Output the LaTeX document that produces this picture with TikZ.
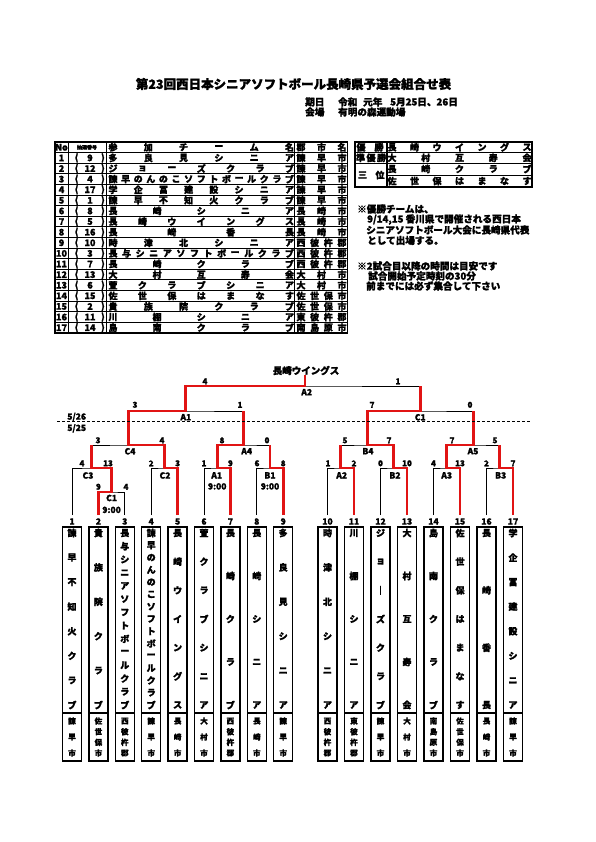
\documentclass[tikz,border=0pt]{standalone}
\usepackage{fontspec}
\setmainfont{Noto Sans CJK JP}[BoldFeatures={FakeBold=1.6}]
\newcommand\fsz[1]{\fontsize{#1}{#1}\selectfont}
\definecolor{wred}{RGB}{225,20,20}
\tikzset{
 ln/.style={line width=0.9pt, black},
 wn/.style={line width=2.8pt, wred},
 sc/.style={font=\bfseries\fsz{8}, anchor=south, inner sep=0pt},
 ml/.style={font=\bfseries\fsz{8.5}, anchor=north, inner sep=0pt},
 num/.style={font=\bfseries\fsz{8.5}, inner sep=0pt},
 tbox/.style={draw, line width=1.3pt, minimum width=19pt, minimum height=234pt, inner sep=0pt},
 tchar/.style={font=\bfseries\fsz{9}, inner sep=0pt},
 cchar/.style={font=\bfseries\fsz{7.6}, inner sep=0pt},
 tabc/.style={font=\bfseries\fsz{9}, inner sep=0pt},
 note/.style={font=\bfseries\fsz{9.6}, anchor=west, inner sep=0pt},
 grid/.style={line width=0.9pt},
 frame/.style={line width=1.4pt},
}
\newcommand\tname[3]{\foreach \chr [count=\k] in {#3} {\node[tchar] at ({#1},{533+(\k-1)*172/(#2-1)}) {\chr};}}
\newcommand\tcity[3]{\foreach \chr [count=\k] in {#3} {\node[cchar] at ({#1},{721+(\k-1)*32/(#2-1)}) {\chr};}}
\newcommand\hdist[5]{\foreach \chr [count=\k] in {#5} {\node[tabc] at ({#1+(\k-1)*(#2-#1)/(#4-1)},{#3}) {\chr};}}
\newcommand\trow[6]{%
 \pgfmathsetmacro\ry{142+(#1+0.5)*10.61}
 \node[tabc] (no#1) at (61.5,\ry) {#1};
 \node[tabc] (lp#1) at (76.5,\ry) {(};
 \node[tabc] (dn#1) at (90,\ry) {#2};
 \node[tabc] (rp#1) at (103,\ry) {)};
 \hdist{113}{289.5}{\ry}{#3}{#4}
 \hdist{301}{342}{\ry}{#5}{#6}
}
\begin{document}
\begin{tikzpicture}[x=1pt,y=-1pt]
\useasboundingbox (0,0) rectangle (595,842);
\fill[white] (0,0) rectangle (595,842);

% title
\node[font=\bfseries\fsz{12.5}, inner sep=0pt] (title) at (293.5,84) {第23回西日本シニアソフトボール長崎県予選会組合せ表};
\node[note] (d1) at (305,102) {期日};
\node[note] (d2) at (338,102) {令和};
\node[note] (d3) at (363,102) {元年};
\node[note] (d4) at (390,102) {5月25日、26日};
\node[note] (v1) at (305,112) {会場};
\node[note] (v2) at (338,112) {有明の森運動場};

% table
\foreach \k in {1,...,17} {\draw[grid] (55,{142+\k*10.61}) -- (347.5,{142+\k*10.61});}
\foreach \xx in {68,106,294.5} {\draw[grid] (\xx,142) -- (\xx,333);}
\draw[frame] (55,142) rectangle (347.5,333);
\draw[frame] (55,152.6) -- (347.5,152.6);
\node[tabc] (hno) at (61.5,147.3) {No};
\node[font=\bfseries\fsz{5}, inner sep=0pt] (hdn) at (87,147.3) {抽選番号};
\hdist{113}{289.5}{147.3}{6}{参,加,チ,ー,ム,名}
\hdist{301}{342}{147.3}{3}{郡,市,名}
\trow{1}{9}{6}{多,良,見,シ,ニ,ア}{3}{諫,早,市}
\trow{2}{12}{7}{ジ,ョ,ー,ズ,ク,ラ,ブ}{3}{諫,早,市}
\trow{3}{4}{15}{諫,早,の,ん,の,こ,ソ,フ,ト,ボ,ー,ル,ク,ラ,ブ}{3}{諫,早,市}
\trow{4}{17}{8}{学,企,冨,建,設,シ,ニ,ア}{3}{諫,早,市}
\trow{5}{1}{8}{諫,早,不,知,火,ク,ラ,ブ}{3}{諫,早,市}
\trow{6}{8}{5}{長,崎,シ,ニ,ア}{3}{長,崎,市}
\trow{7}{5}{7}{長,崎,ウ,イ,ン,グ,ス}{3}{長,崎,市}
\trow{8}{16}{4}{長,崎,香,長}{3}{長,崎,市}
\trow{9}{10}{6}{時,津,北,シ,ニ,ア}{4}{西,彼,杵,郡}
\trow{10}{3}{14}{長,与,シ,ニ,ア,ソ,フ,ト,ボ,ー,ル,ク,ラ,ブ}{4}{西,彼,杵,郡}
\trow{11}{7}{5}{長,崎,ク,ラ,ブ}{4}{西,彼,杵,郡}
\trow{12}{13}{5}{大,村,互,寿,会}{3}{大,村,市}
\trow{13}{6}{7}{萱,ク,ラ,ブ,シ,ニ,ア}{3}{大,村,市}
\trow{14}{15}{7}{佐,世,保,は,ま,な,す}{4}{佐,世,保,市}
\trow{15}{2}{6}{貴,族,院,ク,ラ,ブ}{4}{佐,世,保,市}
\trow{16}{11}{5}{川,棚,シ,ニ,ア}{4}{東,彼,杵,郡}
\trow{17}{14}{5}{島,南,ク,ラ,ブ}{4}{南,島,原,市}

% results box
\draw[frame] (355,142) rectangle (532,187);
\draw[grid] (355,152.5) -- (532,152.5);
\draw[grid] (355,163) -- (532,163);
\draw[grid] (387,175) -- (532,175);
\draw[frame] (387,142) -- (387,187);
\hdist{361}{379}{147.3}{2}{優,勝}
\hdist{360.5}{381.5}{157.8}{3}{準,優,勝}
\hdist{362.5}{380}{175}{2}{三,位}
\hdist{392}{527}{147.3}{7}{長,崎,ウ,イ,ン,グ,ス}
\hdist{392}{527}{157.8}{5}{大,村,互,寿,会}
\hdist{392}{527}{169}{5}{長,崎,ク,ラ,ブ}
\hdist{392}{527}{181}{7}{佐,世,保,は,ま,な,す}

% notes
\node[note] (n1) at (357,209) {※優勝チームは、};
\node[note] (n2) at (367,219.5) {9/14,15 香川県で開催される西日本};
\node[note] (n3) at (366,230) {シニアソフトボール大会に長崎県代表};
\node[note] (n4) at (367,240.5) {として出場する。};
\node[note] (n5) at (357,266) {※2試合目以降の時間は目安です};
\node[note] (n6) at (368,276) {試合開始予定時刻の30分};
\node[note] (n7) at (366,286) {前までには必ず集合して下さい};

% teams
\foreach \i/\x in {1/72, 2/98.4, 3/124.8, 4/151.2, 5/177.6, 6/204, 7/230.4, 8/256.8, 9/283.2, 10/327.5, 11/354, 12/380.5, 13/407, 14/433.5, 15/460, 16/486.5, 17/513} {
  \coordinate (t\i) at (\x,515);
  \node[num] (n\i) at (\x,521.5) {\i};
  \node[tbox] (b\i) at (\x,644) {};
  \draw[line width=1.3pt] ({\x-9.5},713) -- ({\x+9.5},713);
}
\tname{72}{8}{諫,早,不,知,火,ク,ラ,ブ}\tcity{72}{3}{諫,早,市}
\tname{98.4}{6}{貴,族,院,ク,ラ,ブ}\tcity{98.4}{4}{佐,世,保,市}
\tname{124.8}{14}{長,与,シ,ニ,ア,ソ,フ,ト,ボ,ー,ル,ク,ラ,ブ}\tcity{124.8}{4}{西,彼,杵,郡}
\tname{151.2}{15}{諫,早,の,ん,の,こ,ソ,フ,ト,ボ,ー,ル,ク,ラ,ブ}\tcity{151.2}{3}{諫,早,市}
\tname{177.6}{7}{長,崎,ウ,イ,ン,グ,ス}\tcity{177.6}{3}{長,崎,市}
\tname{204}{7}{萱,ク,ラ,ブ,シ,ニ,ア}\tcity{204}{3}{大,村,市}
\tname{230.4}{5}{長,崎,ク,ラ,ブ}\tcity{230.4}{4}{西,彼,杵,郡}
\tname{256.8}{5}{長,崎,シ,ニ,ア}\tcity{256.8}{3}{長,崎,市}
\tname{283.2}{6}{多,良,見,シ,ニ,ア}\tcity{283.2}{3}{諫,早,市}
\tname{327.5}{6}{時,津,北,シ,ニ,ア}\tcity{327.5}{4}{西,彼,杵,郡}
\tname{354}{5}{川,棚,シ,ニ,ア}\tcity{354}{4}{東,彼,杵,郡}
\tname{380.5}{7}{ジ,ョ,｜,ズ,ク,ラ,ブ}\tcity{380.5}{3}{諫,早,市}
\tname{407}{5}{大,村,互,寿,会}\tcity{407}{3}{大,村,市}
\tname{433.5}{5}{島,南,ク,ラ,ブ}\tcity{433.5}{4}{南,島,原,市}
\tname{460}{7}{佐,世,保,は,ま,な,す}\tcity{460}{4}{佐,世,保,市}
\tname{486.5}{4}{長,崎,香,長}\tcity{486.5}{3}{長,崎,市}
\tname{513}{8}{学,企,冨,建,設,シ,ニ,ア}\tcity{513}{3}{諫,早,市}

% match points
\coordinate (C1m) at (111.6,492);
\coordinate (C3m) at (91.8,468);
\coordinate (C2m) at (164.4,468);
\coordinate (A1m) at (217.2,468);
\coordinate (B1m) at (270,468);
\coordinate (A2m) at (340.75,468);
\coordinate (B2m) at (393.75,468);
\coordinate (A3m) at (446.75,468);
\coordinate (B3m) at (499.75,468);
\coordinate (C4m) at (128.1,445);
\coordinate (A4m) at (243.6,445);
\coordinate (B4m) at (367.25,445);
\coordinate (A5m) at (473.25,445);
\coordinate (SAm) at (185.85,411);
\coordinate (SCm) at (420.25,411);
\coordinate (Fm) at (305,386);
\coordinate (top) at (305,375);

% black bracket
\draw[ln] (t2) |- (C1m) -| (t3);
\draw[ln] (t1) |- (C3m) -| (C1m);
\draw[ln] (t4) |- (C2m) -| (t5);
\draw[ln] (t6) |- (A1m) -| (t7);
\draw[ln] (t8) |- (B1m) -| (t9);
\draw[ln] (t10) |- (A2m) -| (t11);
\draw[ln] (t12) |- (B2m) -| (t13);
\draw[ln] (t14) |- (A3m) -| (t15);
\draw[ln] (t16) |- (B3m) -| (t17);
\draw[ln] (C3m) |- (C4m) -| (C2m);
\draw[ln] (A1m) |- (A4m) -| (B1m);
\draw[ln] (A2m) |- (B4m) -| (B2m);
\draw[ln] (A3m) |- (A5m) -| (B3m);
\draw[ln] (C4m) |- (SAm) -| (A4m);
\draw[ln] (B4m) |- (SCm) -| (A5m);
\draw[ln] (SAm) |- (Fm) -| (SCm);

% winners
\draw[wn] (t2) |- (C1m) -- (C1m |- C3m);
\draw[wn] (C1m) |- (C3m) -- (C3m |- C4m);
\draw[wn] (t5) |- (C2m) -- (C2m |- C4m);
\draw[wn] (t7) |- (A1m) -- (A1m |- A4m);
\draw[wn] (t9) |- (B1m) -- (B1m |- A4m);
\draw[wn] (t11) |- (A2m) -- (A2m |- B4m);
\draw[wn] (t13) |- (B2m) -- (B2m |- B4m);
\draw[wn] (t15) |- (A3m) -- (A3m |- A5m);
\draw[wn] (t17) |- (B3m) -- (B3m |- A5m);
\draw[wn] (C2m) |- (C4m) -- (C4m |- SAm);
\draw[wn] (A1m) |- (A4m) -- (A4m |- SAm);
\draw[wn] (B2m) |- (B4m) -- (B4m |- SCm);
\draw[wn] (A3m) |- (A5m) -- (A5m |- SCm);
\draw[wn] (C4m) |- (SAm) -- (SAm |- Fm);
\draw[wn] (B4m) |- (SCm) -- (SCm |- Fm);
\draw[wn] (SAm) |- (Fm) -- (top);

\node[font=\bfseries\fsz{9.5}, inner sep=0pt] (champ) at (306,370.5) {長崎ウイングス};

% day divider
\draw[line width=0.8pt, dash pattern=on 3pt off 2pt] (57,421.7) -- (530,421.7);
\node[num] (d26) at (76.7,417) {5/26};
\node[num] (d25) at (76.7,428.3) {5/25};

% scores
\node[sc] (s1) at (205,384.5) {4};
\node[sc] (s2) at (398,384.5) {1};
\node[sc] (s3) at (135,408) {3};
\node[sc] (s4) at (240,408) {1};
\node[sc] (s5) at (372,408) {7};
\node[sc] (s6) at (470,408) {0};
\node[sc] (s7) at (98,443.5) {3};
\node[sc] (s8) at (162,443.5) {4};
\node[sc] (s9) at (222,443.5) {8};
\node[sc] (s10) at (267,443.5) {0};
\node[sc] (s11) at (345,443.5) {5};
\node[sc] (s12) at (389,443.5) {7};
\node[sc] (s13) at (452,443.5) {7};
\node[sc] (s14) at (495,443.5) {5};
\foreach \x/\s [count=\j] in {82/4, 108/13, 151.2/2, 177.6/3, 204/1, 230.4/9, 257/6, 283.2/8, 328/1, 354/2, 380.5/0, 407/10, 433.5/4, 460/13, 486.5/2, 513/7} {
  \node[sc] (r\j) at (\x,466.5) {\s};
}
\node[sc] (s15) at (98.4,490) {9};
\node[sc] (s16) at (126,490) {4};

% match labels
\node[ml] (lC1) at (111.6,494.5) {C1};
\node[ml] (tC1) at (111.6,506.5) {9:00};
\node[ml] (lC3) at (88,472) {C3};
\node[ml] (lC2) at (165,472) {C2};
\node[ml] (lA1) at (216.7,472) {A1};
\node[ml] (tA1) at (217.2,483) {9:00};
\node[ml] (lB1) at (270,472) {B1};
\node[ml] (tB1) at (270,483) {9:00};
\node[ml] (lA2) at (341.7,472) {A2};
\node[ml] (lB2) at (395,472) {B2};
\node[ml] (lA3) at (446.7,472) {A3};
\node[ml] (lB3) at (500.7,472) {B3};
\node[ml] (lC4) at (130,447.8) {C4};
\node[ml] (lA4) at (246.7,447.8) {A4};
\node[ml] (lB4) at (368,447.8) {B4};
\node[ml] (lA5) at (473,447.8) {A5};
\node[ml] (lSA) at (185.85,413.8) {A1};
\node[ml] (lSC) at (420.25,413.8) {C1};
\node[ml] (lF) at (306.7,388.8) {A2};
\end{tikzpicture}
\end{document}
